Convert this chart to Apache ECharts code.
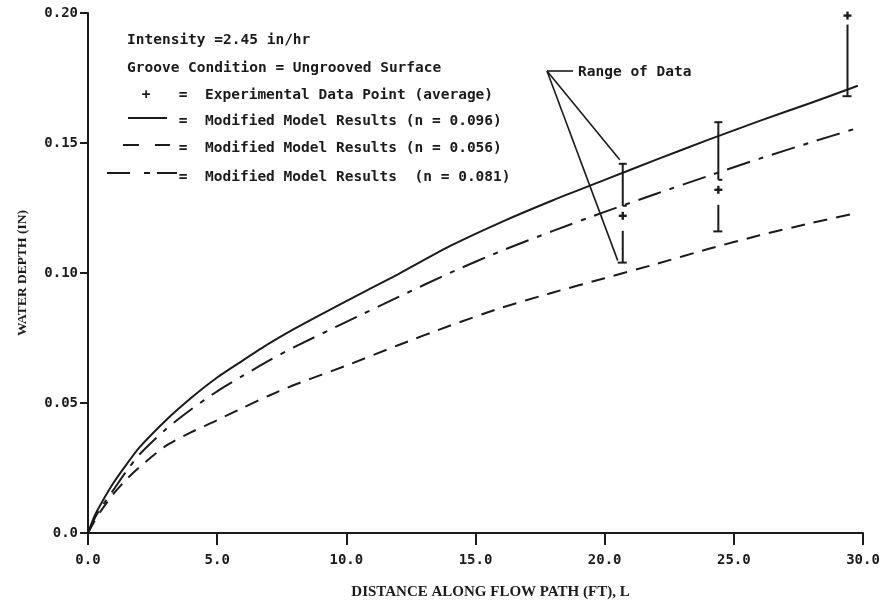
<!DOCTYPE html>
<html>
<head>
<meta charset="utf-8">
<title>Water Depth vs Distance Along Flow Path</title>
<script src="https://cdn.jsdelivr.net/npm/echarts@6/dist/echarts.min.js"></script>
<style>
  html, body { margin: 0; padding: 0; background: #ffffff; }
  #chart { width: 887px; height: 605px; }
</style>
</head>
<body>
<div id="chart"></div>
<script>
// Distance along the flow path (ft) at which the model curves are given
const distanceFt = [0, 0.25, 0.5, 1, 1.5, 2, 3, 4, 5, 6, 7, 8, 10, 12, 14, 16, 18, 20, 22, 24, 26, 28, 29.8];

// Modified model water depth (in) for three roughness values
const depthN096 = [0, 0.0065, 0.0112, 0.0195, 0.0265, 0.0330, 0.0432, 0.0520, 0.0598, 0.0664, 0.0728, 0.0786, 0.0892, 0.0995, 0.1103, 0.1196, 0.1280, 0.1358, 0.1436, 0.1512, 0.1585, 0.1655, 0.1720];
const depthN056 = [0, 0.0045, 0.0085, 0.0152, 0.0207, 0.0254, 0.0334, 0.0388, 0.0434, 0.0482, 0.0528, 0.0570, 0.0644, 0.0722, 0.0797, 0.0866, 0.0925, 0.0980, 0.1035, 0.1092, 0.1145, 0.1192, 0.1232];
const depthN081 = [0, 0.0055, 0.0097, 0.0168, 0.0240, 0.0303, 0.0398, 0.0476, 0.0545, 0.0605, 0.0663, 0.0716, 0.0812, 0.0907, 0.1000, 0.1085, 0.1162, 0.1235, 0.1305, 0.1373, 0.1440, 0.1503, 0.1558];

// Experimental data: location, average depth and range of readings
const obsDistance = [20.7, 24.4, 29.4];
const obsAverage = [0.122, 0.132, 0.199];
const obsHigh = [0.142, 0.158, 0.199];
const obsLow = [0.104, 0.116, 0.168];

// Tick labels
const xTickLabels = ['0.0', '5.0', '10.0', '15.0', '20.0', '25.0', '30.0'];
const yTickLabels = ['0.0', '0.05', '0.10', '0.15', '0.20'];

const INK = '#1b1b1b';
const MONO = 'DejaVu Sans Mono';
const SERIF = 'Liberation Serif';

function pairs(xs, ys) { return xs.map((x, i) => [x, ys[i]]); }

const chart = echarts.init(document.getElementById('chart'), null, { renderer: 'canvas' });

function seg(x1, y1, x2, y2, w) {
  return { type: 'line', shape: { x1, y1, x2, y2 }, style: { stroke: INK, lineWidth: w || 2 } };
}

// Range bar with caps, broken around the "+" that marks the average
function renderRange(params, api) {
  const x = api.value(0), avg = api.value(1), hi = api.value(2), lo = api.value(3);
  const pA = api.coord([x, avg]);
  const pH = api.coord([x, hi]);
  const pL = api.coord([x, lo]);
  const cx = pA[0], cap = 4;
  const kids = [];
  const hasUpper = pA[1] - pH[1] > 14;
  if (hasUpper) {
    const yEnd = pA[1] - 10;
    kids.push(seg(cx, pH[1], cx, yEnd));
    kids.push(seg(cx - cap, pH[1], cx + cap, pH[1]));
    kids.push(seg(cx, yEnd, cx + cap, yEnd));
  }
  const yStart = pA[1] + (hasUpper ? 15 : 9);
  kids.push(seg(cx, yStart, cx, pL[1]));
  kids.push(seg(cx - cap - 1, pL[1], cx + cap, pL[1]));
  // average marker
  kids.push(seg(cx - 4, pA[1], cx + 4, pA[1], 2.4));
  kids.push(seg(cx, pA[1] - 4, cx, pA[1] + 4, 2.4));
  // "Range of Data" leader lines point at the first bar's ends
  if (params.dataIndex === 0) {
    const vx = 547, vy = 71;
    kids.push(seg(vx, vy, cx - 3, pH[1] - 4, 1.6));
    kids.push(seg(vx, vy, cx - 5, pL[1] - 2, 1.6));
    kids.push(seg(vx, vy, vx + 26, vy, 1.6));
  }
  return { type: 'group', children: kids };
}

const legendFont = { fontFamily: MONO, fontWeight: 'bold', fontSize: 14.5, fill: INK };
function gText(x, y, text, extra) {
  return { type: 'text', x, y, style: Object.assign({ text, textVerticalAlign: 'middle' }, legendFont, extra || {}) };
}
function gLine(x1, y1, x2, y2) {
  return { type: 'line', shape: { x1, y1, x2, y2 }, style: { stroke: INK, lineWidth: 2 } };
}

const curveStyle = { showSymbol: false, smooth: 0.25, type: 'line' };

const option = {
  backgroundColor: '#ffffff',
  animation: false,
  grid: { left: 88, right: 24, top: 13, bottom: 72, containLabel: false },
  xAxis: {
    type: 'value', min: 0, max: 30, interval: 5,
    name: 'DISTANCE ALONG FLOW PATH (FT), L',
    nameLocation: 'middle', nameGap: 52,
    nameTextStyle: { fontFamily: SERIF, fontWeight: 'bold', fontSize: 15, color: INK, padding: [0, 0, 0, 30] },
    axisLine: { lineStyle: { color: INK, width: 2 } },
    axisTick: { inside: false, length: 12, lineStyle: { color: INK, width: 2 } },
    axisLabel: {
      margin: 20, fontFamily: MONO, fontWeight: 'bold', fontSize: 14, color: INK,
      formatter: (v) => xTickLabels[Math.round(v / 5)]
    },
    splitLine: { show: false }
  },
  yAxis: {
    type: 'value', min: 0, max: 0.2, interval: 0.05,
    name: 'WATER DEPTH (IN)',
    nameLocation: 'middle', nameGap: 58, nameRotate: 90,
    nameTextStyle: { fontFamily: SERIF, fontWeight: 'bold', fontSize: 13.5, color: INK },
    axisLine: { show: true, lineStyle: { color: INK, width: 2 } },
    axisTick: { show: true, length: 8, lineStyle: { color: INK, width: 2 } },
    axisLabel: {
      margin: 10, fontFamily: MONO, fontWeight: 'bold', fontSize: 14, color: INK,
      formatter: (v) => yTickLabels[Math.round(v / 0.05)]
    },
    splitLine: { show: false }
  },
  series: [
    Object.assign({
      name: 'n = 0.096', data: pairs(distanceFt, depthN096),
      lineStyle: { color: INK, width: 2 }
    }, curveStyle),
    Object.assign({
      name: 'n = 0.056', data: pairs(distanceFt, depthN056),
      lineStyle: { color: INK, width: 2, type: [14, 9] }
    }, curveStyle),
    Object.assign({
      name: 'n = 0.081', data: pairs(distanceFt, depthN081),
      lineStyle: { color: INK, width: 2, type: [24, 9, 5, 9] }
    }, curveStyle),
    {
      name: 'Experimental', type: 'custom', renderItem: renderRange,
      data: obsDistance.map((x, i) => [x, obsAverage[i], obsHigh[i], obsLow[i]]),
      clip: false, z: 5
    }
  ],
  graphic: [
    gText(127, 40, 'Intensity =2.45 in/hr'),
    gText(127, 68, 'Groove Condition = Ungrooved Surface'),
    gText(146, 95, '+', { textAlign: 'center' }),
    gText(183, 95, '=', { textAlign: 'center' }),
    gText(205, 95, 'Experimental Data Point (average)'),
    gLine(128, 118, 167, 118),
    gText(183, 121, '=', { textAlign: 'center' }),
    gText(205, 121, 'Modified Model Results (n = 0.096)'),
    gLine(123, 145, 139, 145), gLine(155, 145, 170, 145),
    gText(183, 148, '=', { textAlign: 'center' }),
    gText(205, 148, 'Modified Model Results (n = 0.056)'),
    gLine(107, 173, 130, 173), gLine(144, 173, 150, 173), gLine(157, 173, 177, 173),
    gText(183, 177, '=', { textAlign: 'center' }),
    gText(205, 177, 'Modified Model Results  (n = 0.081)'),
    gText(578, 72, 'Range of Data')
  ]
};

chart.setOption(option);
</script>
</body>
</html>
